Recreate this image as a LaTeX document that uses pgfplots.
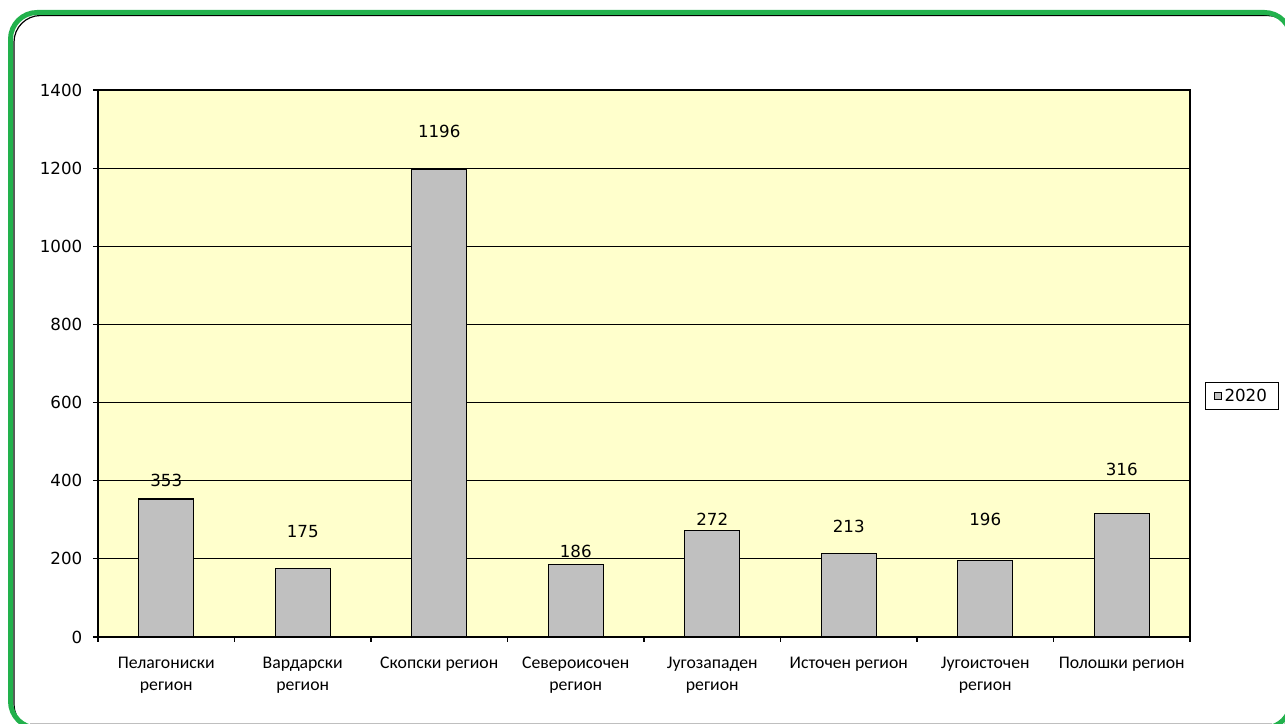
\documentclass[border=0pt]{standalone}
\usepackage{fontspec}
\setmainfont{DejaVu Sans}
\newfontfamily\catfont{Carlito}
\usepackage{pgfplots}
\pgfplotsset{compat=1.18}
\usepackage{pgfplotstable}

\definecolor{frameg}{RGB}{34,177,76}
\definecolor{plotbg}{RGB}{255,255,204}
\definecolor{barg}{RGB}{192,192,192}

\pgfplotstableread{
x y ly lab
0 353 400 353
1 175 269 175
2 1196 1295 1196
3 186 218 186
4 272 300 272
5 213 282 213
6 196 302 196
7 316 428 316
}\data

\begin{document}
\begin{tikzpicture}[x=0.75pt,y=0.75pt]
\useasboundingbox (0,0) rectangle (1285,724);
\begin{scope}
\clip (0,0) rectangle (1285,724);
\draw[black!25, line width=0.75pt] (30,0.8) -- (1272,0.8);
\draw[black, line width=0.9pt, rounded corners=20pt] (14,724-15.5) rectangle (1294,724-731);
\draw[frameg, line width=3.75pt, rounded corners=20pt] (10.5,724-12.5) rectangle (1291,724-728);
\end{scope}
\begin{axis}[
  at={(73.5pt,65.25pt)}, anchor=south west,
  scale only axis, width=819pt, height=410.25pt,
  xmin=-0.5, xmax=7.5, ymin=0, ymax=1400,
  axis background/.style={fill=plotbg},
  axis line style={black, line width=1pt},
  xtick={-0.5,0.5,...,7.5},
  x tick label as interval=true,
  xticklabels={{Пелагониски\\регион},{Вардарски\\регион},{Скопски регион},{Североисочен\\регион},{Југозападен\\регион},{Источен регион},{Југоисточен\\регион},{Полошки регион}},
  xticklabel style={font=\catfont\fontsize{13.3}{16.5}\selectfont, align=center, anchor=north, yshift=-7.75pt},
  ytick={0,200,...,1400},
  yticklabel style={font=\fontsize{12.5}{14}\selectfont, xshift=-4.5pt},
  /pgf/number format/assume math mode=true,
  /pgf/number format/1000 sep={},
  tick align=outside, tick pos=left,
  major tick length=3.75pt,
  tick style={black, line width=0.9pt},
  ymajorgrids, grid style={black, line width=0.9pt},
  legend style={at={(1.0137,0.4406)}, anchor=west, draw=black, line width=0.75pt,
    font=\fontsize{12.5}{14}\selectfont, inner xsep=6.5pt, inner ysep=2.5pt},
  legend image code/.code={\draw[#1, line width=0.6pt] (0pt,-2.6pt) rectangle (5.2pt,2.6pt);},
  clip=false,
]
\addplot[ybar, bar width=41.25pt, fill=barg, draw=black, line width=0.9pt] table[x=x,y=y]{\data};
\addlegendentry{2020}
\addplot[forget plot, draw=none, mark=none, nodes near coords, point meta=explicit symbolic,
  nodes near coords style={font=\fontsize{12.5}{14}\selectfont, anchor=center, text=black}]
  table[x=x,y=ly,meta=lab]{\data};
\end{axis}
\end{tikzpicture}
\end{document}
